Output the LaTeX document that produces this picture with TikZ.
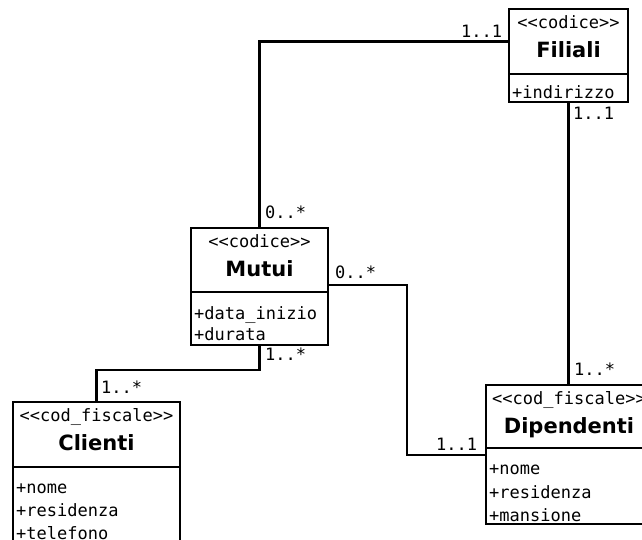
\documentclass[tikz,border=0pt]{standalone}
\usepackage{fontspec}
\newfontfamily\umlmono{DejaVu Sans Mono}[Ligatures=TeXOff]
\newfontfamily\umlsans{DejaVu Sans}
\usetikzlibrary{calc}

\tikzset{
  classbox/.style={draw, line width=2.8pt, inner sep=0pt, outer sep=0pt},
  stereo/.style={font=\fontsize{17}{22}\selectfont\umlmono, anchor=base, inner sep=0pt},
  classname/.style={font=\fontsize{21}{25}\selectfont\umlsans\bfseries, anchor=base, inner sep=0pt},
  attr/.style={font=\fontsize{17}{22}\selectfont\umlmono, anchor=base west, inner sep=0pt},
  mult/.style={font=\fontsize{17}{22}\selectfont\umlmono, anchor=base west, inner sep=0pt},
  assoc/.style={line width=2.8pt},
}

\begin{document}
\begin{tikzpicture}[x=1pt, y=-1pt]

    \path[use as bounding box, clip] (0,0) rectangle (642,539);

    % classes
    \node[classbox, anchor=north west, minimum width=119, minimum height=65] (filiali) at (509,9) {};
    \node[classbox, anchor=north, minimum width=119, minimum height=28] (filialiattr) at (filiali.south) {};

    \node[classbox, anchor=north west, minimum width=137, minimum height=64] (mutui) at (191,228) {};
    \node[classbox, anchor=north, minimum width=137, minimum height=53] (mutuiattr) at (mutui.south) {};

    \node[classbox, anchor=north west, minimum width=167, minimum height=65] (clienti) at (13,402) {};
    \node[classbox, anchor=north, minimum width=167, minimum height=90] (clientiattr) at (clienti.south) {};

    \node[classbox, anchor=north west, minimum width=166, minimum height=63] (dipendenti) at (486,385) {};
    \node[classbox, anchor=north, minimum width=166, minimum height=76] (dipendentiattr) at (dipendenti.south) {};

    % headers
    \node[stereo] (filialist) at ($(filiali.north)+(0,19)$) {<<codice>>};
    \node[classname] (filialiname) at ($(filiali.north)+(0,48)$) {Filiali};
    \node[stereo] (mutuist) at ($(mutui.north)+(0,19)$) {<<codice>>};
    \node[classname] (mutuiname) at ($(mutui.north)+(0,48)$) {Mutui};
    \node[stereo] (clientist) at ($(clienti.north)+(0,19)$) {<<cod\_fiscale>>};
    \node[classname] (clientiname) at ($(clienti.north)+(0,48)$) {Clienti};
    \node[stereo] (dipendentist) at ($(dipendenti.north)+(0,19)$) {<<cod\_fiscale>>};
    \node[classname] (dipendentiname) at ($(dipendenti.north)+(0,48)$) {Dipendenti};

    % attributes
    \node[attr] (filialia1) at ($(filialiattr.north west)+(3,24)$) {+indirizzo};
    \foreach \a [count=\i] in {+data\_inizio, +durata}
        \node[attr] (mutuia\i) at ($(mutuiattr.north west)+(3,6+21*\i)$) {\a};
    \foreach \a [count=\i] in {+nome, +residenza, +telefono}
        \node[attr] (clientia\i) at ($(clientiattr.north west)+(3,3+23*\i)$) {\a};
    \foreach \a [count=\i] in {+nome, +residenza, +mansione}
        \node[attr] (dipendentia\i) at ($(dipendentiattr.north west)+(3,3+23.5*\i)$) {\a};

    % associations
    \draw[assoc] (filiali.west) -| (mutui.north);
    \draw[assoc] (filialiattr.south) -- (filialiattr.south |- dipendenti.north);
    \draw[assoc] (mutuiattr.south) -- ++(0,25) -| (clienti.north);
    \draw[assoc] ($(mutui.south east)+(0,-7)$) -- ++(79,0) |- ($(dipendentiattr.north west)+(0,7)$);

    % multiplicities
    \node[mult] at (461,37) {1..1};
    \node[mult] at (265,218) {0..*};
    \node[mult] at (573,119) {1..1};
    \node[mult] at (335,278) {0..*};
    \node[mult] at (265,360) {1..*};
    \node[mult] at (101,393) {1..*};
    \node[mult] at (574,375) {1..*};
    \node[mult] at (436,450) {1..1};

\end{tikzpicture}
\end{document}
